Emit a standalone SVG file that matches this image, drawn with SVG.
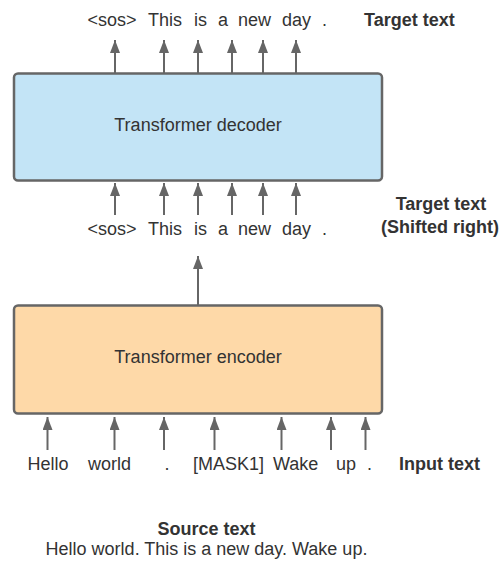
<svg xmlns="http://www.w3.org/2000/svg" width="501" height="563" viewBox="0 0 501 563">
<defs>
<marker id="ah" viewBox="0 0 13 10" refX="13" refY="5" markerWidth="13" markerHeight="10" markerUnits="userSpaceOnUse" orient="auto">
<path d="M0,0 L13,5 L0,10 Z" fill="#666"/>
</marker>
<style>
.box{stroke:#666;stroke-width:2.5}
.t{font-family:"Liberation Sans",Arial,sans-serif;font-size:18px;fill:#333}
.b{font-family:"Liberation Sans",Arial,sans-serif;font-size:18px;font-weight:bold;fill:#333}
.c{stroke:#666;stroke-width:2;fill:none}
</style>
</defs>
<rect width="501" height="563" fill="#fff"/>
<g id="decoder">
<rect class="box" x="14" y="73.5" width="368" height="107" rx="4" fill="#c3e4f6"/>
<text class="t" x="198" y="131" text-anchor="middle">Transformer decoder</text>
</g>
<g id="encoder">
<rect class="box" x="14" y="305.5" width="368" height="108" rx="4" fill="#fed9a8"/>
<text class="t" x="198" y="363" text-anchor="middle">Transformer encoder</text>
</g>
<g id="connectors">
<path class="c" d="M115,73 V40" marker-end="url(#ah)"/>
<path class="c" d="M164,73 V40" marker-end="url(#ah)"/>
<path class="c" d="M198,73 V40" marker-end="url(#ah)"/>
<path class="c" d="M232,73 V40" marker-end="url(#ah)"/>
<path class="c" d="M263,73 V40" marker-end="url(#ah)"/>
<path class="c" d="M296,73 V40" marker-end="url(#ah)"/>
<path class="c" d="M115,215 V183" marker-end="url(#ah)"/>
<path class="c" d="M164,215 V183" marker-end="url(#ah)"/>
<path class="c" d="M198,215 V183" marker-end="url(#ah)"/>
<path class="c" d="M232,215 V183" marker-end="url(#ah)"/>
<path class="c" d="M263,215 V183" marker-end="url(#ah)"/>
<path class="c" d="M296,215 V183" marker-end="url(#ah)"/>
<path class="c" d="M198,305 V256" marker-end="url(#ah)"/>
<path class="c" d="M47.5,450 V417" marker-end="url(#ah)"/>
<path class="c" d="M114.5,450 V417" marker-end="url(#ah)"/>
<path class="c" d="M164,450 V417" marker-end="url(#ah)"/>
<path class="c" d="M214.5,450 V417" marker-end="url(#ah)"/>
<path class="c" d="M281.5,450 V417" marker-end="url(#ah)"/>
<path class="c" d="M331,450 V417" marker-end="url(#ah)"/>
<path class="c" d="M365.5,450 V417" marker-end="url(#ah)"/>
</g>
<g id="target-text">
<text class="t" x="87.5" y="26">&lt;sos&gt;</text>
<text class="t" x="148" y="26">This</text>
<text class="t" x="194" y="26">is</text>
<text class="t" x="218" y="26">a</text>
<text class="t" x="238" y="26">new</text>
<text class="t" x="282" y="26">day</text>
<text class="t" x="322" y="26">.</text>
<text class="b" x="364" y="26">Target text</text>
</g>
<g id="shifted-text">
<text class="t" x="87.5" y="235">&lt;sos&gt;</text>
<text class="t" x="148" y="235">This</text>
<text class="t" x="194" y="235">is</text>
<text class="t" x="218" y="235">a</text>
<text class="t" x="238" y="235">new</text>
<text class="t" x="282" y="235">day</text>
<text class="t" x="322" y="235">.</text>
<text class="b" x="441" y="210" text-anchor="middle">Target text</text>
<text class="b" x="440" y="233" text-anchor="middle">(Shifted right)</text>
</g>
<g id="input-text">
<text class="t" x="27.5" y="470">Hello</text>
<text class="t" x="88" y="470">world</text>
<text class="t" x="164.5" y="470">.</text>
<text class="t" x="193" y="470">[MASK1]</text>
<text class="t" x="273" y="470">Wake</text>
<text class="t" x="336" y="470">up</text>
<text class="t" x="367" y="470">.</text>
<text class="b" x="399" y="470">Input text</text>
</g>
<g id="source-text">
<text class="b" x="206.5" y="535" text-anchor="middle">Source text</text>
<text class="t" x="206.5" y="555" text-anchor="middle">Hello world. This is a new day. Wake up.</text>
</g>
</svg>
